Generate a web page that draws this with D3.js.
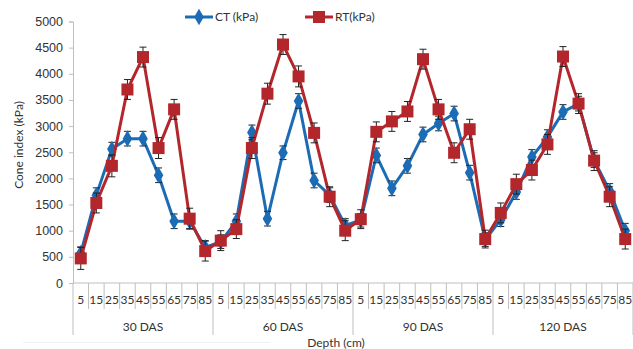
<!DOCTYPE html>
<html>
<head>
<meta charset="utf-8">
<script src="https://cdn.jsdelivr.net/npm/d3@7"></script>
<style>
  body { margin: 0; background: #fff; }
  svg { font-family: Lato, "Open Sans", sans-serif; }
</style>
</head>
<body>
<svg id="chart"></svg>
<script>
// groups and depth ticks on the x axis
var groups = ["30 DAS", "60 DAS", "90 DAS", "120 DAS"];
var depths = ["5", "15", "25", "35", "45", "55", "65", "75", "85"];

// cone index (kPa), 9 depths per group
var ctValues = [570, 1680, 2560, 2760, 2760, 2060, 1180, 1180, 680,
                790, 1180, 2880, 1230, 2490, 3480, 1960, 1680, 1100,
                1200, 2440, 1810, 2240, 2840, 3050, 3240, 2110, 830,
                1210, 1740, 2410, 2790, 3270, 3430, 2350, 1760, 1000];
var rtValues = [470, 1530, 2240, 3700, 4320, 2580, 3320, 1230, 610,
                810, 1030, 2580, 3620, 4560, 3950, 2870, 1650, 1000,
                1220, 2890, 3090, 3280, 4280, 3320, 2490, 2940, 840,
                1340, 1890, 2160, 2650, 4330, 3430, 2340, 1650, 840];
var ctErr = [120, 140, 130, 140, 140, 140, 140, 140, 130,
             130, 140, 140, 140, 130, 140, 140, 140, 130,
             130, 140, 140, 140, 140, 140, 140, 140, 130,
             130, 140, 140, 140, 140, 140, 140, 140, 140];
var rtErr = [210, 190, 210, 190, 190, 200, 190, 200, 190,
             190, 180, 200, 200, 190, 200, 190, 190, 190,
             180, 190, 190, 190, 190, 190, 190, 190, 170,
             190, 190, 190, 190, 190, 190, 190, 190, 190];
var yTicks = [0, 500, 1000, 1500, 2000, 2500, 3000, 3500, 4000, 4500, 5000];

var W = 633, H = 349;
var ctColor = "#1c6cb5", rtColor = "#b3262c", axisColor = "#bfbfbf", textColor = "#333333";

var svg = d3.select("#chart").attr("width", W).attr("height", H);

// one slot per (group, depth)
var keys = [];
groups.forEach(function (g) { depths.forEach(function (d) { keys.push(g + "|" + d); }); });

var x = d3.scaleBand().domain(keys).range([73, 633]).padding(0);
var y = d3.scaleLinear().domain([0, 5000]).range([283, 21.5]);
var cx = function (i) { return x(keys[i]) + x.bandwidth() / 2; };

// faint chart border at the bottom
svg.append("line")
  .attr("x1", 23).attr("x2", 270).attr("y1", 342.5).attr("y2", 342.5)
  .attr("stroke", "#f0f0f0");

// y axis
var yAxis = svg.append("g")
  .attr("transform", "translate(73,0)")
  .call(d3.axisLeft(y).tickValues(yTicks).tickFormat(d3.format("d")).tickSize(4).tickPadding(6));
yAxis.select(".domain").attr("stroke", axisColor);
yAxis.selectAll(".tick line").attr("stroke", axisColor);
yAxis.selectAll("text").attr("fill", textColor).style("font-size", "12.5px");

// x axis: separators between categories, longer ones between groups
var xg = svg.append("g");
xg.append("line")
  .attr("x1", 73).attr("x2", 633).attr("y1", 283).attr("y2", 283)
  .attr("stroke", axisColor);
xg.selectAll(".sep")
  .data(d3.range(keys.length + 1))
  .enter().append("line")
  .attr("x1", function (i) { return i < keys.length ? x(keys[i]) : 633; })
  .attr("x2", function (i) { return i < keys.length ? x(keys[i]) : 633; })
  .attr("y1", 283)
  .attr("y2", function (i) { return i % depths.length == 0 ? 335 : 309; })
  .attr("stroke", axisColor);
xg.selectAll(".depth")
  .data(keys)
  .enter().append("text")
  .attr("x", function (d, i) { return cx(i); })
  .attr("y", 304)
  .attr("text-anchor", "middle")
  .attr("fill", textColor)
  .style("font-size", "12px")
  .text(function (d) { return d.split("|")[1]; });
xg.selectAll(".group")
  .data(groups)
  .enter().append("text")
  .attr("x", function (g, i) { return x(keys[i * 9]) + x.bandwidth() * 4.5; })
  .attr("y", 331)
  .attr("text-anchor", "middle")
  .attr("fill", textColor)
  .style("font-size", "12px")
  .text(function (g) { return g; });

// axis titles
svg.append("text")
  .attr("x", 336).attr("y", 347)
  .attr("text-anchor", "middle")
  .attr("fill", textColor)
  .style("font-size", "12px")
  .text("Depth (cm)");
svg.append("text")
  .attr("transform", "translate(23,145) rotate(-90)")
  .attr("text-anchor", "middle")
  .attr("fill", textColor)
  .style("font-size", "12px")
  .text("Cone index (kPa)");

var diamond = d3.symbol().type(d3.symbolDiamond).size(80);

function drawSeries(values, errs, color, marker) {
  var g = svg.append("g");
  var line = d3.line()
    .x(function (d, i) { return cx(i); })
    .y(function (d) { return y(d); });
  g.append("path")
    .datum(values)
    .attr("d", line)
    .attr("fill", "none")
    .attr("stroke", color)
    .attr("stroke-width", 3);

  // error bars
  var eb = g.selectAll(".err")
    .data(values)
    .enter().append("g")
    .attr("stroke", "#222")
    .attr("stroke-width", 1);
  eb.append("line")
    .attr("x1", function (d, i) { return cx(i); })
    .attr("x2", function (d, i) { return cx(i); })
    .attr("y1", function (d, i) { return y(d - errs[i]); })
    .attr("y2", function (d, i) { return y(d + errs[i]); });
  [-1, 1].forEach(function (s) {
    eb.append("line")
      .attr("x1", function (d, i) { return cx(i) - 3.5; })
      .attr("x2", function (d, i) { return cx(i) + 3.5; })
      .attr("y1", function (d, i) { return y(d + s * errs[i]); })
      .attr("y2", function (d, i) { return y(d + s * errs[i]); });
  });

  if (marker == "diamond") {
    g.selectAll(".m")
      .data(values)
      .enter().append("path")
      .attr("d", diamond)
      .attr("transform", function (d, i) { return "translate(" + cx(i) + "," + y(d) + ")"; })
      .attr("fill", color);
  } else {
    g.selectAll(".m")
      .data(values)
      .enter().append("rect")
      .attr("x", function (d, i) { return cx(i) - 6; })
      .attr("y", function (d) { return y(d) - 6; })
      .attr("width", 12)
      .attr("height", 12)
      .attr("fill", color);
  }
}

drawSeries(ctValues, ctErr, ctColor, "diamond");
drawSeries(rtValues, rtErr, rtColor, "square");

// legend
var legend = svg.append("g");
legend.append("line").attr("x1", 185).attr("x2", 213).attr("y1", 17).attr("y2", 17)
  .attr("stroke", ctColor).attr("stroke-width", 3);
legend.append("path").attr("d", diamond).attr("transform", "translate(199,17)").attr("fill", ctColor);
legend.append("text").attr("x", 215).attr("y", 21).attr("fill", textColor)
  .style("font-size", "12px").text("CT (kPa)");
legend.append("line").attr("x1", 305).attr("x2", 333).attr("y1", 17).attr("y2", 17)
  .attr("stroke", rtColor).attr("stroke-width", 3);
legend.append("rect").attr("x", 313).attr("y", 11).attr("width", 12).attr("height", 12).attr("fill", rtColor);
legend.append("text").attr("x", 335).attr("y", 21).attr("fill", textColor)
  .style("font-size", "12px").text("RT(kPa)");
</script>
</body>
</html>
